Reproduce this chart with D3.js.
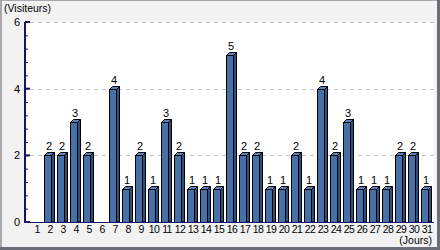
<!DOCTYPE html>
<html><head><meta charset="utf-8">
<script src="https://cdn.jsdelivr.net/npm/d3@7"></script>
<style>html,body{margin:0;padding:0;background:#f2f2f2;}svg{display:block;}text{-webkit-font-smoothing:antialiased;}</style>
</head><body>
<script>
const days = d3.range(1, 32);
const visits = [0,2,2,3,2,0,4,1,2,1,3,2,1,1,1,5,2,2,1,1,2,1,4,2,3,1,1,1,2,2,1];
const yTicks = [0,2,4,6];
const yLabel = "(Visiteurs)";
const xLabel = "(Jours)";

(function(){
const W = 440, H = 250;
const svg = d3.select("body").append("svg").attr("width", W).attr("height", H);
const font = "'Liberation Sans', Arial, sans-serif";

svg.append("rect").attr("width", W).attr("height", H).attr("fill", "#f2f2f2");
svg.append("rect").attr("x",0).attr("y",0).attr("width",W).attr("height",1).attr("fill","#a8a8ad");
svg.append("rect").attr("x",0).attr("y",0).attr("width",2).attr("height",H).attr("fill","#a8a8ad");
svg.append("rect").attr("x",W-3).attr("y",0).attr("width",3).attr("height",H).attr("fill","#6b6e77");
svg.append("rect").attr("x",0).attr("y",H-3).attr("width",W).attr("height",3).attr("fill","#6b6e77");

const pL = 25, pR = 434, pT = 22, pB = 222;
const x = d3.scaleLinear().domain([0, 31.46]).range([pL, pR]).interpolate(d3.interpolateRound);
const y = d3.scaleLinear().domain([0, 6]).range([pB, pT]);

svg.append("rect").attr("x", pL).attr("y", pT).attr("width", pR-pL).attr("height", pB-pT).attr("fill", "#fff");

svg.append("g").selectAll("line").data(yTicks.filter(t=>t>0)).join("line")
  .attr("x1", pL+5).attr("x2", pR).attr("y1", d=>Math.round(y(d))+0.5).attr("y2", d=>Math.round(y(d))+0.5)
  .attr("stroke", "#c4c4c4").attr("stroke-dasharray", "4,4");

const depth = 3, fw = 7;
const data = days.map((d,i)=>({d, v: visits[i]})).filter(o=>o.v>0);
const bars = svg.append("g").selectAll("g").data(data).join("g");
bars.append("path").attr("d", o => {
  const xr = x(o.d)+0.5, yt = Math.round(y(o.v))+0.5;
  return `M${xr},${pB} L${xr},${yt} L${xr+depth},${yt-depth} L${xr+depth},${pB} Z`;
}).attr("fill", "#2e4f7e").attr("stroke", "#000").attr("stroke-width", 1);
bars.append("path").attr("d", o => {
  const xr = x(o.d)+0.5, xl = xr - fw, yt = Math.round(y(o.v))+0.5;
  return `M${xl},${yt} L${xl+depth},${yt-depth} L${xr+depth},${yt-depth} L${xr},${yt} Z`;
}).attr("fill", "#5a82bb").attr("stroke", "#000").attr("stroke-width", 1);
bars.append("rect").attr("x", o => x(o.d)-fw+0.5).attr("y", o => Math.round(y(o.v))+0.5).attr("width", fw)
  .attr("height", o => pB - Math.round(y(o.v))).attr("fill", "#4670a6").attr("stroke", "#000").attr("stroke-width", 1);

svg.append("g").selectAll("text").data(data).join("text")
  .attr("x", o => x(o.d)-2).attr("y", o => Math.round(y(o.v))-5)
  .attr("text-anchor","middle").attr("font-family", font).attr("font-size", 11).attr("fill","#000")
  .text(o => o.v);

const yAxis = d3.axisRight(y).tickValues(d3.range(0, 6.01, 0.4)).tickSize(3).tickFormat("");
const ga = svg.append("g").attr("transform", `translate(${pL},0)`).call(yAxis);
ga.select(".domain").remove();
ga.selectAll("line").attr("stroke", "#14146b");
svg.append("g").selectAll("line").data(yTicks).join("line")
  .attr("x1", pL).attr("x2", pL+5).attr("y1", d=>y(d)).attr("y2", d=>y(d)).attr("stroke","#14146b").attr("stroke-width",2);
svg.append("line").attr("x1", pL).attr("x2", pL).attr("y1", pT).attr("y2", pB+1).attr("stroke","#14146b").attr("stroke-width",2);
svg.append("line").attr("x1", pL).attr("x2", pR).attr("y1", pB+0.5).attr("y2", pB+0.5).attr("stroke","#14146b").attr("stroke-width",1);

svg.append("g").selectAll("text").data(yTicks).join("text")
  .attr("x", 20).attr("y", d=>Math.round(y(d))+4).attr("text-anchor","end")
  .attr("font-family", font).attr("font-size", 11).attr("fill","#000").text(d=>d);

svg.append("g").selectAll("text").data(days).join("text")
  .attr("x", d=>x(d)-1).attr("y", 233).attr("text-anchor","middle")
  .attr("font-family", font).attr("font-size", 10.5).attr("letter-spacing", -0.6).attr("fill","#000").text(d=>d);

svg.append("text").attr("x", 4).attr("y", 12).attr("font-family", font).attr("font-size", 10.5).attr("fill","#000").text(yLabel);
svg.append("text").attr("x", 432).attr("y", 244).attr("text-anchor","end").attr("font-family", font).attr("font-size", 10.5).attr("fill","#000").text(xLabel);
})();
</script>
</body></html>
